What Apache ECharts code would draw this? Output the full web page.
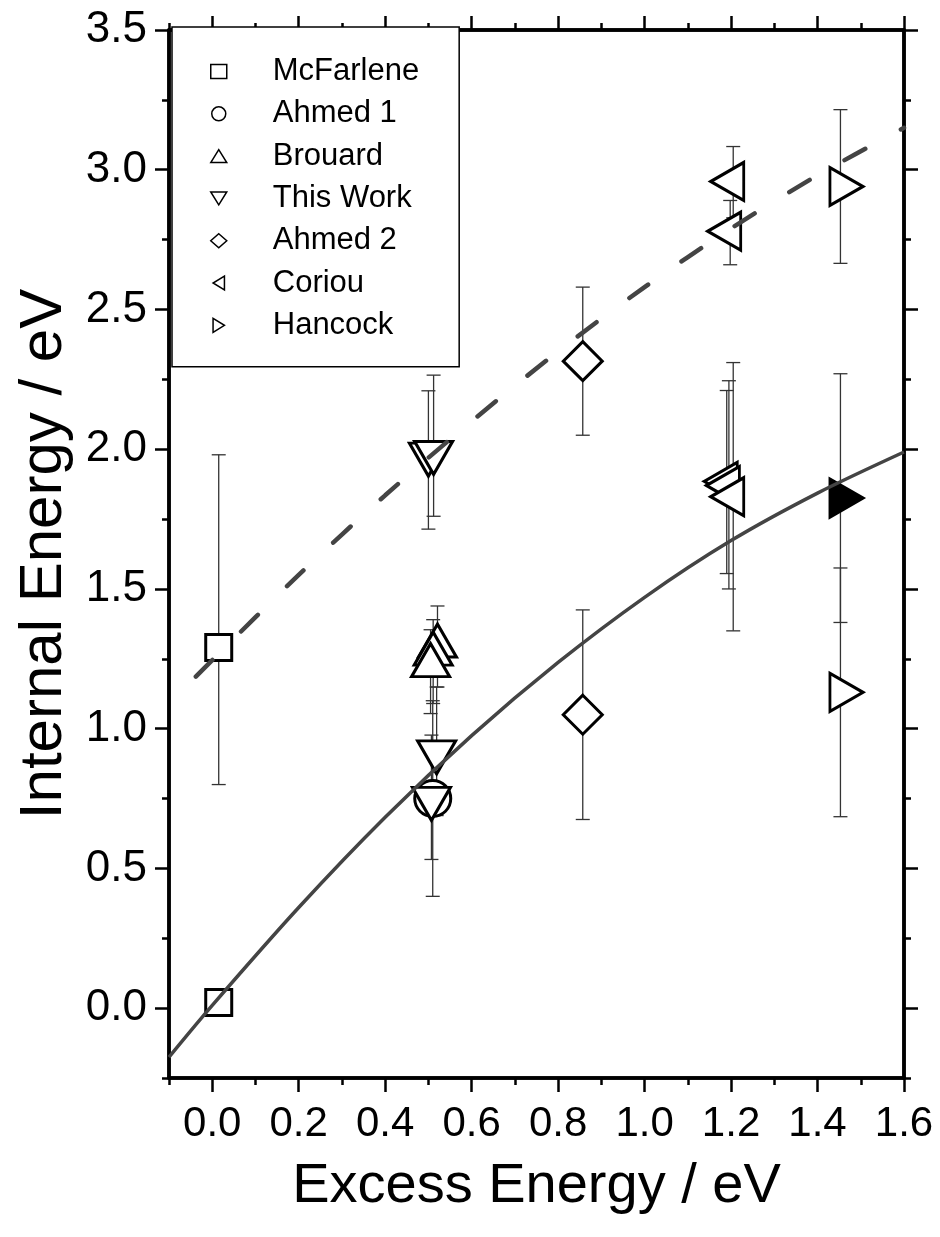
<!DOCTYPE html>
<html><head><meta charset="utf-8">
<script src="https://cdn.jsdelivr.net/npm/echarts@6/dist/echarts.min.js"></script>
<style>html,body{margin:0;padding:0;background:#fff}#c{width:940px;height:1237px}</style>
</head><body><div id="c"></div>
<script>
// ---- data ----
const mcfX = [0.015, 0.015], mcfY = [0.02, 1.29], mcfEp = [0.03, 0.69], mcfEm = [0.03, 0.49];
const ah1X = [0.51], ah1Y = [0.75], ah1Ep = [0.35], ah1Em = [0.35];
const broX = [0.521, 0.511, 0.505], broY = [1.294, 1.265, 1.224], broEp = [0.145, 0.125, 0.13], broEm = [0.145, 0.175, 0.17];
const twX = [0.50, 0.512, 0.519, 0.507], twY = [1.984, 1.99, 0.919, 0.752], twEp = [0.225, 0.275, 0.23, 0.225], twEm = [0.27, 0.23, 0.23, 0.22];
const ah2X = [0.857, 0.857], ah2Y = [2.315, 1.05], ah2Ep = [0.265, 0.375], ah2Em = [0.265, 0.375];
const corX = [1.205, 1.198, 1.19, 1.195, 1.205], corY = [2.958, 2.78, 1.885, 1.87, 1.83], corEp = [0.125, 0.11, 0.325, 0.375, 0.48], corEm = [0.13, 0.12, 0.33, 0.37, 0.48];
const hanX = [1.453, 1.453, 1.453], hanY = [2.94, 1.825, 1.13], hanEp = [0.275, 0.445, 0.445], hanEm = [0.275, 0.445, 0.445];
const hanFilled = [false, true, false];
const solidX = [-0.1, 0.0, 0.2, 0.4, 0.6, 0.8, 1.0, 1.2, 1.4, 1.6];
const solidY = [-0.175, 0.01, 0.36, 0.683, 0.975, 1.237, 1.47, 1.673, 1.843, 1.99];
const dashX = [-0.1, 0.0, 0.2, 0.4, 0.6, 0.8, 1.0, 1.2, 1.4, 1.6];
const dashY = [1.09, 1.245, 1.55, 1.835, 2.10, 2.35, 2.58, 2.79, 2.98, 3.15];
const xTicks = [0.0, 0.2, 0.4, 0.6, 0.8, 1.0, 1.2, 1.4, 1.6];
const xMinorTicks = [-0.1, 0.1, 0.3, 0.5, 0.7, 0.9, 1.1, 1.3, 1.5];
const yTicks = [0.0, 0.5, 1.0, 1.5, 2.0, 2.5, 3.0, 3.5];
const yMinorTicks = [-0.25, 0.25, 0.75, 1.25, 1.75, 2.25, 2.75, 3.25];
const legendNames = ['McFarlene', 'Ahmed 1', 'Brouard', 'This Work', 'Ahmed 2', 'Coriou', 'Hancock'];

// ---- build ----
const FONT = 'Liberation Sans, Arial, sans-serif';
const groups = [
  {name:'McFarlene', x:mcfX, y:mcfY, ep:mcfEp, em:mcfEm, symbol:'rect', size:26, rot:0, off:[0,0], icon:'rect'},
  {name:'Ahmed 1', x:ah1X, y:ah1Y, ep:ah1Ep, em:ah1Em, symbol:'circle', size:36, rot:0, off:[0,0], icon:'circle'},
  {name:'Brouard', x:broX, y:broY, ep:broEp, em:broEm, symbol:'triangle', size:[38,33], rot:0, off:[0,-6], icon:'path://M0,13L8,0L16,13Z'},
  {name:'This Work', x:twX, y:twY, ep:twEp, em:twEm, symbol:'triangle', size:[38,33], rot:180, off:[0,6], icon:'path://M0,0L16,0L8,13Z'},
  {name:'Ahmed 2', x:ah2X, y:ah2Y, ep:ah2Ep, em:ah2Em, symbol:'diamond', size:39, rot:0, off:[0,0], icon:'diamond'},
  {name:'Coriou', x:corX, y:corY, ep:corEp, em:corEm, symbol:'triangle', size:[38,33], rot:90, off:[-6,0], icon:'path://M13,0L13,16L0,8Z'},
  {name:'Hancock', x:hanX, y:hanY, ep:hanEp, em:hanEm, symbol:'triangle', size:[38,33], rot:-90, off:[6,0], filled:hanFilled, icon:'path://M0,0L0,16L13,8Z'}
];
const errData = [];
groups.forEach(g => g.x.forEach((xv, i) => errData.push([xv, g.y[i] - g.em[i], g.y[i] + g.ep[i]])));

const scatterSeries = groups.map(g => ({
  name: g.name, type: 'scatter', z: 3,
  symbol: g.symbol, symbolSize: g.size, symbolRotate: g.rot, symbolOffset: g.off,
  itemStyle: {color: '#fff', borderColor: '#000', borderWidth: 3, opacity: 1},
  emphasis: {disabled: true},
  data: g.x.map((xv, i) => (g.filled && g.filled[i]) ? {value:[xv, g.y[i]], itemStyle:{color:'#000'}} : [xv, g.y[i]])
}));

const axisLineStyle = {color: '#000', width: 3.5};
function xAx(pos, ticks, len, labels, extra) {
  return Object.assign({
    type: 'value', min: -0.1, max: 1.6, position: pos,
    axisLine: {show: true, onZero: false, lineStyle: axisLineStyle},
    axisTick: {show: true, inside: false, length: len, customValues: ticks, lineStyle: {color:'#000', width: 2.5}},
    axisLabel: labels ? {show: true, customValues: ticks, formatter: v => Number(v).toFixed(1), fontFamily: FONT, fontSize: 42, color: '#000', margin: 25} : {show: false},
    splitLine: {show: false}
  }, extra || {});
}
function yAx(pos, ticks, len, labels, extra) {
  return Object.assign({
    type: 'value', min: -0.25, max: 3.5, position: pos,
    axisLine: {show: true, onZero: false, lineStyle: axisLineStyle},
    axisTick: {show: true, inside: false, length: len, customValues: ticks, lineStyle: {color:'#000', width: 2.5}},
    axisLabel: labels ? {show: true, customValues: ticks, formatter: v => Number(v).toFixed(1), fontFamily: FONT, fontSize: 44, color: '#000', margin: 22} : {show: false},
    splitLine: {show: false}
  }, extra || {});
}

const option = {
  backgroundColor: '#fff',
  animation: false,
  grid: {left: 169, right: 36, top: 30, bottom: 159, containLabel: false},
  legend: {
    data: groups.map(g => ({name: g.name, icon: g.icon})),
    orient: 'vertical', left: 172, top: 27,
    padding: [29, 40, 26, 38], itemGap: 11.3, itemWidth: 16, itemHeight: 14,
    backgroundColor: '#fff', borderColor: '#000', borderWidth: 1.5, borderRadius: 0,
    selectedMode: false, z: 10,
    itemStyle: {color: '#fff', borderColor: '#000', borderWidth: 1.5},
    textStyle: {fontFamily: FONT, fontSize: 31, color: '#000', lineHeight: 31, padding: [0, 0, 0, 41]}
  },
  xAxis: [
    xAx('bottom', xTicks, 14, true, {name: 'Excess Energy / eV', nameLocation: 'middle', nameGap: 81, nameTextStyle: {fontFamily: FONT, fontSize: 56, color: '#000'}}),
    xAx('bottom', xMinorTicks, 7, false),
    xAx('top', xTicks, 14, false),
    xAx('top', xMinorTicks, 7, false)
  ],
  yAxis: [
    yAx('left', yTicks, 14, true, {name: 'Internal Energy / eV', nameLocation: 'middle', nameGap: 92, nameTextStyle: {fontFamily: FONT, fontSize: 60, color: '#000'}}),
    yAx('left', yMinorTicks, 7, false),
    yAx('right', yTicks, 14, false),
    yAx('right', yMinorTicks, 7, false)
  ],
  series: [
    {
      name: 'errors', type: 'custom', z: 2, silent: true,
      encode: {x: 0, y: [1, 2]},
      data: errData,
      renderItem: function (params, api) {
        const x = api.value(0), lo = api.value(1), hi = api.value(2);
        const p1 = api.coord([x, hi]), p2 = api.coord([x, lo]);
        const w = 7;
        const style = {stroke: '#333', lineWidth: 1.3, fill: null};
        return {type: 'group', children: [
          {type: 'line', shape: {x1: p1[0], y1: p1[1], x2: p2[0], y2: p2[1]}, style: style},
          {type: 'line', shape: {x1: p1[0] - w, y1: p1[1], x2: p1[0] + w, y2: p1[1]}, style: style},
          {type: 'line', shape: {x1: p2[0] - w, y1: p2[1], x2: p2[0] + w, y2: p2[1]}, style: style}
        ]};
      }
    },
    ...scatterSeries,
    {
      name: 'fit1', type: 'line', z: 4, smooth: 0.3, showSymbol: false, silent: true, clip: true,
      lineStyle: {color: '#444', width: 3.5},
      data: solidX.map((xv, i) => [xv, solidY[i]])
    },
    {
      name: 'fit2', type: 'line', z: 4, smooth: 0.3, showSymbol: false, silent: true, clip: true,
      lineStyle: {color: '#444', width: 4.5, type: [23.5, 40.5], dashOffset: 26, cap: 'round'},
      data: dashX.map((xv, i) => [xv, dashY[i]])
    }
  ]
};
const chart = echarts.init(document.getElementById('c'), null, {renderer: 'canvas'});
chart.setOption(option);
</script></body></html>
